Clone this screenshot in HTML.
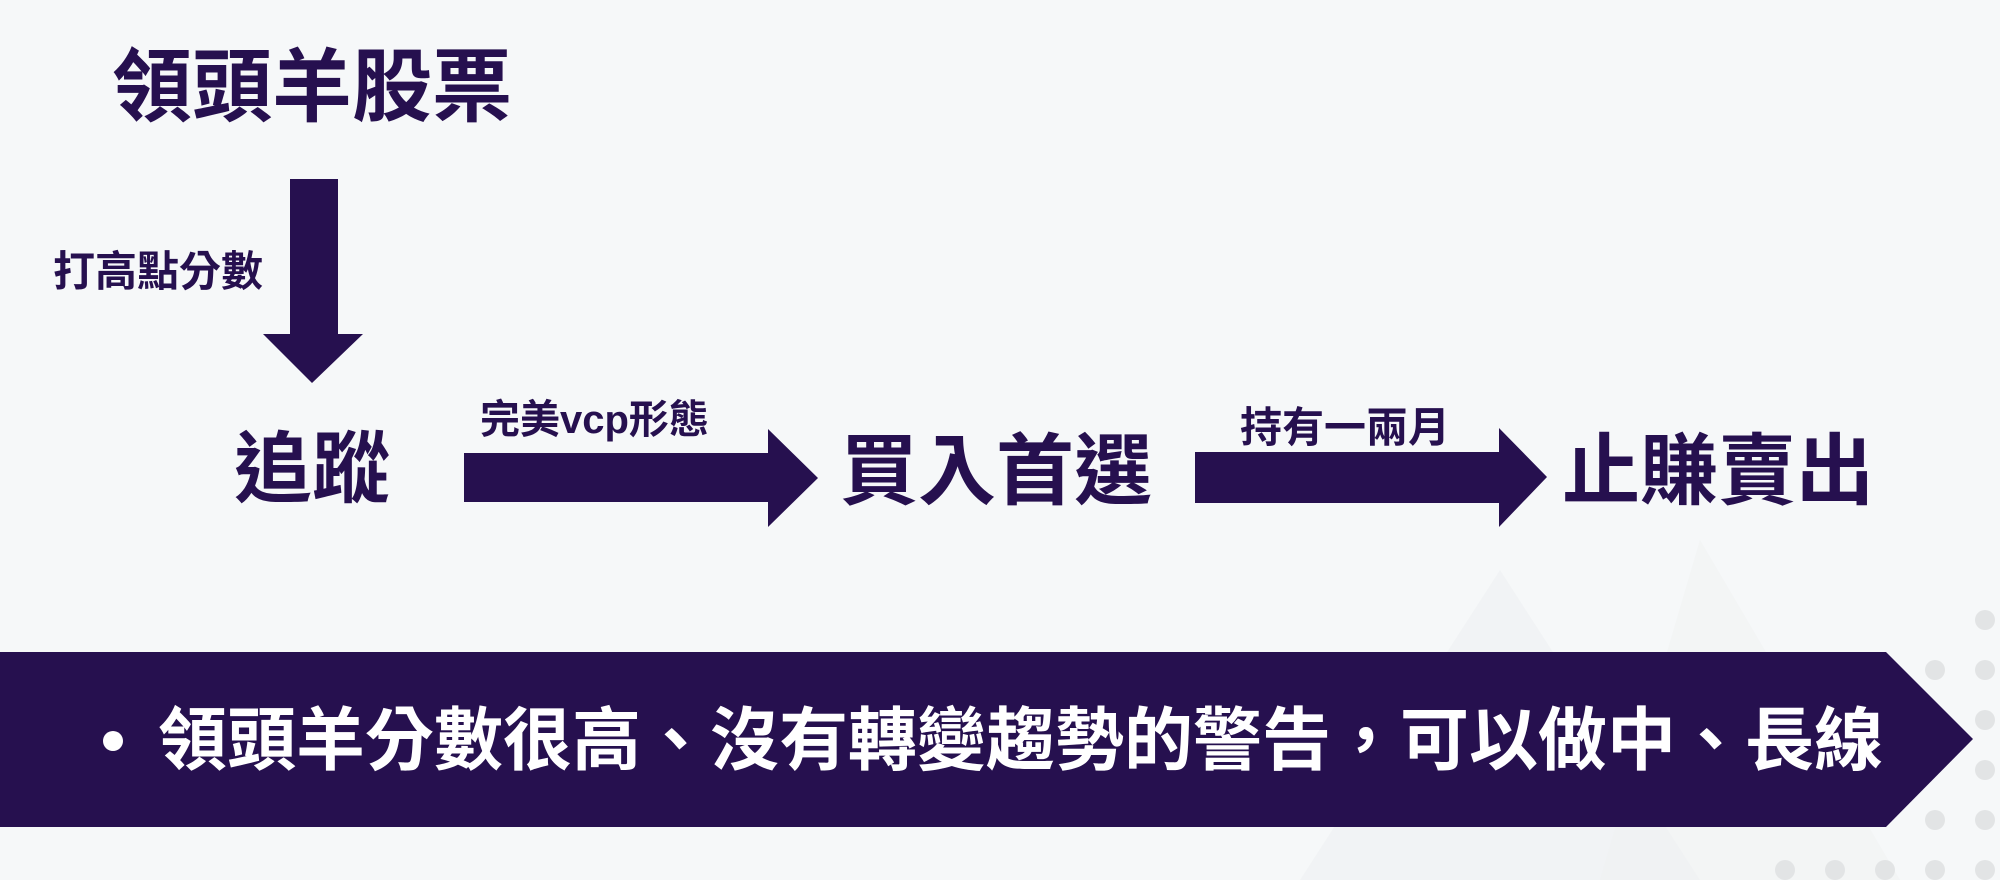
<!DOCTYPE html>
<html><head><meta charset="utf-8"><style>
html,body{margin:0;padding:0}
body{width:2000px;height:880px;position:relative;overflow:hidden;background:#f6f8f9;font-family:"Liberation Sans","Noto Sans CJK TC",sans-serif;font-weight:bold;color:#26104f}
.t{position:absolute;white-space:nowrap;line-height:1}
</style></head><body>
<svg width="2000" height="880" style="position:absolute;left:0;top:0">
<polygon points="1500,570 1300,880 1700,880" fill="#eef0f1" opacity="0.6"/>
<polygon points="1700,540 1600,880 1900,880" fill="#eff1f2" opacity="0.5"/>
<g fill="#e2e4e5">
<circle cx="1985" cy="620" r="10"/>
<circle cx="1935" cy="670" r="10"/><circle cx="1985" cy="670" r="10"/>
<circle cx="1985" cy="720" r="10"/>
<circle cx="1985" cy="770" r="10"/>
<circle cx="1935" cy="820" r="10"/><circle cx="1985" cy="820" r="10"/>
<circle cx="1885" cy="870" r="10"/><circle cx="1935" cy="870" r="10"/><circle cx="1985" cy="870" r="10"/>
<circle cx="1835" cy="870" r="10"/><circle cx="1785" cy="870" r="10"/>
</g>
<g fill="#26104f">
<polygon points="290,179 338,179 338,334 363,334 312,383 263,334 290,334"/>
<polygon points="464,453 768,453 768,429 818,478 768,527 768,502 464,502"/>
<polygon points="1195,452 1499,452 1499,428 1547,477 1499,527 1499,503 1195,503"/>
<polygon points="0,652 1886,652 1973,739 1886,827 0,827"/>
</g>
<circle cx="113" cy="741" r="10" fill="#fff"/>
</svg>
<div class="t" style="left:112px;top:48px;font-size:80px">領頭羊股票</div>
<div class="t" style="left:53px;top:251px;font-size:42px">打高點分數</div>
<div class="t" style="left:234px;top:430px;font-size:78px">追蹤</div>
<div class="t" style="left:480px;top:400px;font-size:40px">完美vcp形態</div>
<div class="t" style="left:840px;top:432px;font-size:78px">買入首選</div>
<div class="t" style="left:1240px;top:407px;font-size:42px">持有一兩月</div>
<div class="t" style="left:1562px;top:432px;font-size:78px">止賺賣出</div>
<div class="t" style="left:158px;top:706px;font-size:69px;color:#fff">領頭羊分數很高、沒有轉變趨勢的警告，可以做中、長線</div>
</body></html>
